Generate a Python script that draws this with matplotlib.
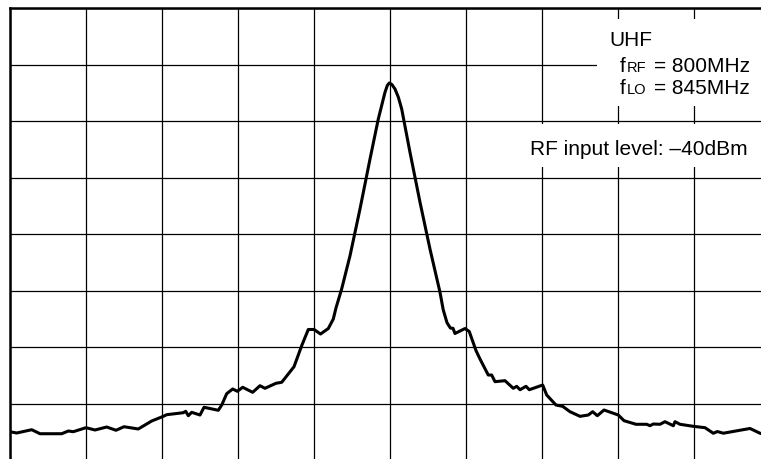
import matplotlib
import numpy as np
import matplotlib.pyplot as plt
from matplotlib.patches import Rectangle

matplotlib.rcParams['font.family'] = ['Liberation Sans', 'DejaVu Sans']

# spectrum trace, x in horizontal divisions (0..10), y in vertical divisions (0..8)
freq_div = [0.0, 0.088, 0.286, 0.395, 0.680, 0.767, 0.833, 1.0, 1.118, 1.272,
            1.395, 1.5, 1.688, 1.864, 2.017, 2.062, 2.280, 2.312, 2.346, 2.391,
            2.5, 2.553, 2.741, 2.786, 2.851, 2.930, 2.991, 3.062, 3.193, 3.289,
            3.355, 3.5, 3.575, 3.737, 3.838, 3.925, 4.0, 4.086, 4.188, 4.254,
            4.289, 4.364, 4.474, 4.605, 4.737, 4.846, 4.934, 4.965, 4.991, 5.025,
            5.066, 5.110, 5.154, 5.263, 5.395, 5.526, 5.658, 5.700, 5.750, 5.795,
            5.829, 5.855, 5.987, 6.043,
            6.132, 6.184, 6.293, 6.338, 6.382, 6.513, 6.622, 6.667, 6.711, 6.789,
            6.833, 7.009, 7.062, 7.184, 7.272, 7.368, 7.5, 7.609, 7.667, 7.728,
            7.816, 8.004, 8.079, 8.237, 8.378, 8.421, 8.464, 8.553, 8.618, 8.728,
            8.750, 8.816, 8.991, 9.145, 9.254, 9.307, 9.386, 9.737, 9.868, 10.0]
level_div = [0.50, 0.478, 0.536, 0.465, 0.465, 0.513, 0.501, 0.572, 0.531, 0.584,
             0.526, 0.589, 0.549, 0.690, 0.773, 0.802, 0.837, 0.862, 0.784, 0.844,
             0.796, 0.933, 0.880, 0.973, 1.173, 1.257, 1.216, 1.287, 1.198, 1.315,
             1.269, 1.358, 1.375, 1.651, 2.023, 2.310, 2.310, 2.230, 2.327, 2.496,
             2.690, 3.027, 3.616, 4.442, 5.327, 6.035, 6.508, 6.630, 6.673, 6.645,
             6.566, 6.420, 6.212, 5.446, 4.561, 3.735, 2.968, 2.660, 2.430, 2.335,
             2.331, 2.239, 2.327, 2.274,
             1.935, 1.788, 1.504, 1.504, 1.386, 1.404, 1.269, 1.304, 1.244, 1.304,
             1.244, 1.327, 1.150, 0.973, 0.950, 0.855, 0.773, 0.796, 0.855, 0.784,
             0.885, 0.796, 0.696, 0.632, 0.632, 0.607, 0.637, 0.632, 0.678, 0.607,
             0.678, 0.632, 0.596, 0.572, 0.473, 0.504, 0.474, 0.558, 0.474, 0.42]

W, H = 761, 460
fig = plt.figure(figsize=(W / 100, H / 100), dpi=100)

# axes frame runs past the right and bottom edges of the image
ax = fig.add_axes([10 / W, -1 / H, 760 / W, 452 / H])
ax.set_xlim(0, 10)
ax.set_ylim(0, 8)
ax.set_xticks(np.arange(0, 11, 1))
ax.set_yticks(np.arange(0, 9, 1))
ax.tick_params(length=0, labelbottom=False, labelleft=False)
ax.set_axisbelow(True)
ax.grid(True, color='black', linewidth=0.9)
for s in ax.spines.values():
    s.set_linewidth(1.8)

# white boxes behind the labels
ax.add_patch(Rectangle((7.72, 6.27), 2.4, 1.54, facecolor='white', edgecolor='none', zorder=1))
ax.add_patch(Rectangle((6.71, 5.19), 3.4, 0.76, facecolor='white', edgecolor='none', zorder=1))

ax.plot(freq_div, level_div, color='black', linewidth=2.2, zorder=3,
        solid_joinstyle='round')

def px(x, y):
    return x / W, 1 - y / H

fs = 15
fig.text(*px(609, 45.5), 'UHF', fontsize=fs, va='baseline', ha='left')
fig.text(*px(620, 71.5), 'f', fontsize=fs, va='baseline', ha='left')
fig.text(*px(627, 71.5), 'RF', fontsize=10.5, va='baseline', ha='left')
fig.text(*px(750, 71.5), '= 800MHz', fontsize=fs, va='baseline', ha='right')
fig.text(*px(620, 94), 'f', fontsize=fs, va='baseline', ha='left')
fig.text(*px(627, 94), 'LO', fontsize=10.5, va='baseline', ha='left')
fig.text(*px(750, 94), '= 845MHz', fontsize=fs, va='baseline', ha='right')
fig.text(*px(748, 155), 'RF input level: \u201340dBm', fontsize=fs, va='baseline', ha='right')

plt.savefig('out.png', dpi=100)
